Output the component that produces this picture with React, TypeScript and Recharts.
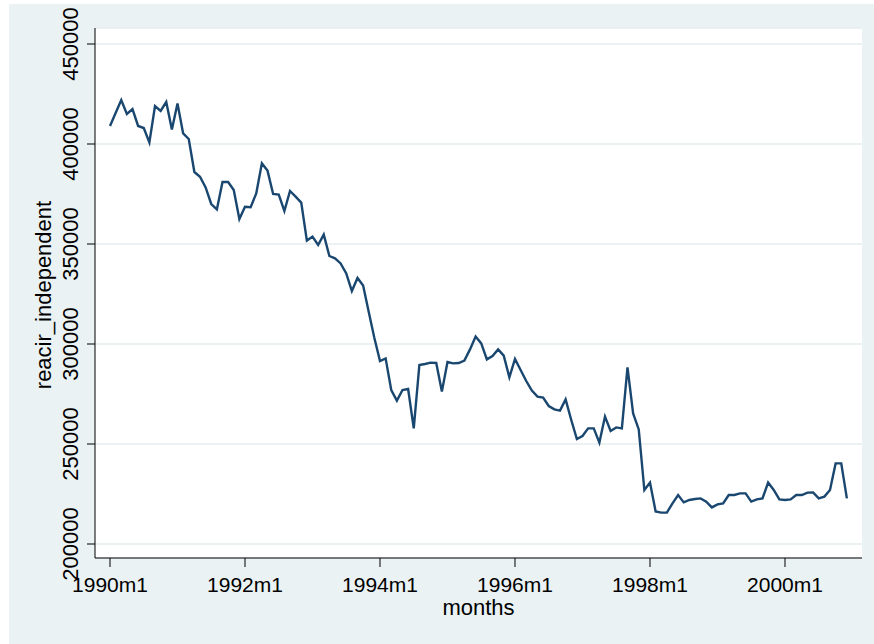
import { LineChart, Line, XAxis, YAxis, CartesianGrid } from 'recharts'

// monthly values, 1990m1 .. 2000m12
const values: number[] = [
    409000, 415500, 422000, 415000, 417500, 409000, 408000, 400800, 419000, 416500, 421000, 407300,
    420300, 405300, 402500, 386000, 383600, 378300, 370000, 367300, 381000, 381000, 377000, 362500,
    368600, 368400, 375300, 390300, 386700, 375000, 374700, 366500, 376500, 373700, 370700, 351700,
    353700, 349500, 354700, 344000, 342800, 340300, 335300, 326500, 333000, 329200, 316000, 303000,
    291500, 292800, 277000, 271700, 277000, 277500, 257800, 289500, 290000, 290700, 290500, 276200,
    291000, 290300, 290500, 291700, 297300, 303700, 300300, 292300, 294000, 297300, 294200, 283300,
    292500, 287000, 281500, 276700, 273700, 273200, 269000, 267300, 266700, 272300, 262000, 252500,
    254000, 257800, 257800, 250700, 263700, 256500, 258300, 257800, 288300, 265300, 257300, 227000,
    230700, 216300, 215700, 215700, 220300, 224500, 220800, 222000, 222500, 222800, 221200, 218300,
    219800, 220300, 224500, 224500, 225300, 225300, 221200, 222300, 222800, 230700, 227000, 222300,
    222000, 222300, 224500, 224500, 225700, 225800, 222800, 223700, 227000, 240300, 240300, 222800,
]

const xTicks = [0, 24, 48, 72, 96, 120]
const xTickLabels = ['1990m1', '1992m1', '1994m1', '1996m1', '1998m1', '2000m1']
const yTicks = [200000, 250000, 300000, 350000, 400000, 450000]

const data = values.map((v, i) => ({ m: i, v }))

const FONT = 'Arial, "Liberation Sans", sans-serif'

function YTick(props: any) {
    const { x, y, payload } = props
    return (
        <text
            x={x}
            y={y}
            transform={`rotate(-90, ${x}, ${y})`}
            textAnchor="middle"
            fontSize={22}
            fontFamily={FONT}
            fill="#000"
        >
            {payload.value}
        </text>
    )
}

function XTick(props: any) {
    const { x, y, payload } = props
    const idx = xTicks.indexOf(payload.value)
    return (
        <text x={x} y={y} dy="0.71em" textAnchor="middle" fontSize={21} fontFamily={FONT} fill="#000">
            {xTickLabels[idx]}
        </text>
    )
}

export default function App() {
    return (
        <div style={{ position: 'absolute', left: 0, top: 0, width: 874, height: 644, background: '#fff' }}>
            <div style={{ position: 'absolute', left: 9, top: 4, width: 865, height: 640, background: '#eaf2f3' }} />
            <div style={{ position: 'absolute', left: 0, top: 0 }}>
                <LineChart
                    width={874}
                    height={644}
                    data={data}
                    margin={{ top: 28, right: 12, bottom: 0, left: 0 }}
                >
                    <CartesianGrid vertical={false} fill="#ffffff" stroke="#e6eef1" strokeWidth={1.5} />
                    <XAxis
                        dataKey="m"
                        type="number"
                        domain={[-2.667, 133.69]}
                        ticks={xTicks}
                        height={86}
                        tickSize={9}
                        tickMargin={10}
                        tick={<XTick />}
                        stroke="#000"
                        tickLine={{ stroke: '#000' }}
                        allowDataOverflow
                        label={{
                            content: (p: any) => {
                                const vb = p.viewBox
                                return (
                                    <text
                                        x={vb.x + vb.width / 2}
                                        y={vb.y + 57}
                                        textAnchor="middle"
                                        fontSize={22}
                                        fontFamily={FONT}
                                        fill="#000"
                                    >
                                        months
                                    </text>
                                )
                            },
                        }}
                    />
                    <YAxis
                        type="number"
                        domain={[193000, 458000]}
                        ticks={yTicks}
                        width={95}
                        tickSize={8}
                        tickMargin={9}
                        tick={<YTick />}
                        stroke="#000"
                        tickLine={{ stroke: '#000' }}
                        allowDataOverflow
                        label={{
                            content: (p: any) => {
                                const vb = p.viewBox
                                const cx = 51
                                const cy = vb.y + vb.height / 2 + 2
                                return (
                                    <text
                                        x={cx}
                                        y={cy}
                                        transform={`rotate(-90, ${cx}, ${cy})`}
                                        textAnchor="middle"
                                        fontSize={22}
                                        fontFamily={FONT}
                                        fill="#000"
                                    >
                                        reacir_independent
                                    </text>
                                )
                            },
                        }}
                    />
                    <Line
                        type="linear"
                        dataKey="v"
                        stroke="#1a476f"
                        strokeWidth={2.4}
                        dot={false}
                        isAnimationActive={false}
                    />
                </LineChart>
            </div>
        </div>
    )
}
